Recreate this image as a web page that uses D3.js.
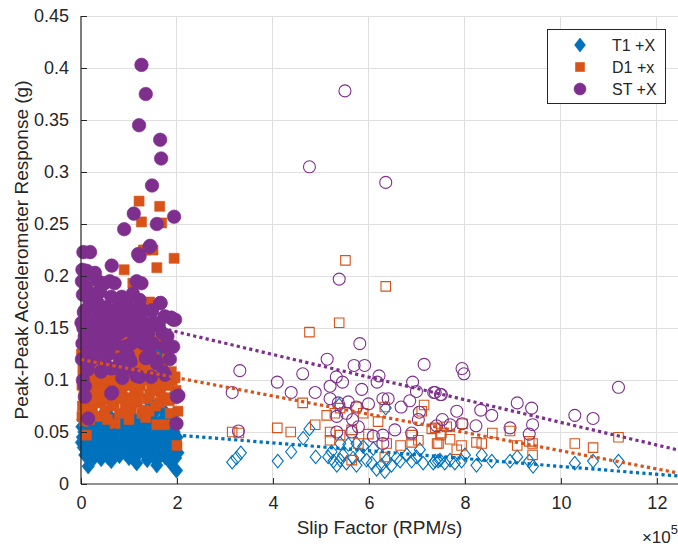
<!DOCTYPE html>
<html>
<head>
<meta charset="utf-8">
<script src="https://cdn.jsdelivr.net/npm/d3@7"></script>
<style>
  body { margin: 0; background: #fff; }
  svg { display: block; font-family: "Liberation Sans", Arial, Helvetica, sans-serif; }
</style>
</head>
<body>
<svg id="chart" width="678" height="547"></svg>
<script>
// Slip factor is stored in units of 1e5 RPM/s (axis shows the x10^5 multiplier);
// response is peak-peak acceleration in g.

// Tick values
const xTicks = [0, 2, 4, 6, 8, 10, 12];
const yTicks = [0, 0.05, 0.1, 0.15, 0.2, 0.25, 0.3, 0.35, 0.4, 0.45];
const yTickLabels = ["0", "0.05", "0.1", "0.15", "0.2", "0.25", "0.3", "0.35", "0.4", "0.45"];

// Series names (legend)
const seriesNames = ["T1 +X", "D1 +x", "ST +X"];
const seriesColors = ["#0072BD", "#D95319", "#7E2F8E"];

// T1 +X, low slip-factor runs (filled diamonds)
const t1Filled = [
  [0.02,0.055],[0.03,0.045],[0.04,0.062],[0.05,0.035],[0.06,0.050],[0.08,0.028],[0.10,0.058],[0.12,0.041],
  [0.15,0.017],[0.16,0.066],[0.18,0.048],[0.20,0.033],[0.22,0.056],[0.25,0.039],[0.27,0.025],[0.28,0.062],
  [0.30,0.047],[0.33,0.030],[0.35,0.055],[0.38,0.042],[0.40,0.064],[0.42,0.024],[0.44,0.051],[0.47,0.036],
  [0.50,0.059],[0.52,0.029],[0.55,0.046],[0.57,0.067],[0.58,0.038],[0.61,0.053],[0.63,0.022],[0.65,0.044],
  [0.68,0.060],[0.70,0.032],[0.72,0.050],[0.75,0.040],[0.78,0.065],[0.80,0.027],[0.82,0.055],[0.85,0.035],
  [0.88,0.047],[0.90,0.062],[0.92,0.030],[0.95,0.042],[0.98,0.057],[1.00,0.025],[1.02,0.049],[1.05,0.037],
  [1.08,0.064],[1.10,0.031],[1.12,0.052],[1.13,0.086],[1.15,0.043],[1.18,0.028],[1.20,0.058],[1.22,0.036],
  [1.25,0.047],[1.28,0.066],[1.30,0.031],[1.32,0.054],[1.33,0.111],[1.35,0.040],[1.38,0.023],[1.40,0.061],
  [1.42,0.045],[1.44,0.078],[1.45,0.033],[1.48,0.055],[1.50,0.027],[1.52,0.068],[1.54,0.094],[1.55,0.041],
  [1.58,0.018],[1.60,0.050],[1.61,0.119],[1.62,0.035],[1.65,0.127],[1.66,0.060],[1.68,0.044],[1.70,0.029],
  [1.72,0.071],[1.75,0.026],[1.76,0.052],[1.78,0.038],[1.80,0.063],[1.82,0.047],[1.85,0.031],[1.88,0.055],
  [1.90,0.040],[1.92,0.066],[1.96,0.087],[1.97,0.025],[1.99,0.013],[2.00,0.045],[2.02,0.030],
  [0.01,0.040],[0.09,0.052],[0.14,0.060],[0.24,0.046],[0.32,0.058],[0.37,0.035],[0.46,0.060],[0.54,0.053],
  [0.60,0.030],[0.67,0.052],[0.74,0.060],[0.77,0.034],[0.87,0.056],[0.94,0.050],[1.04,0.058],[1.14,0.060],
  [1.24,0.053],[1.34,0.060],[1.47,0.045],[1.57,0.058],[1.64,0.045],[1.74,0.060],[1.84,0.056],[1.94,0.050],
  [0.13,0.030],[0.56,0.026],[1.16,0.020],[1.62,0.025],[1.87,0.020]
];

// D1 +x, low slip-factor runs (filled squares)
const d1Filled = [
  [0.01,0.125],[0.02,0.095],[0.03,0.075],[0.04,0.110],[0.05,0.140],[0.06,0.085],[0.08,0.118],[0.10,0.068],
  [0.11,0.047],[0.12,0.100],[0.14,0.132],[0.15,0.190],[0.16,0.080],[0.18,0.112],[0.20,0.092],[0.22,0.145],
  [0.24,0.072],[0.26,0.122],[0.28,0.103],[0.30,0.084],[0.32,0.137],[0.34,0.065],[0.36,0.115],[0.38,0.095],
  [0.40,0.128],[0.42,0.078],[0.44,0.108],[0.46,0.142],[0.48,0.088],[0.49,0.126],[0.50,0.070],[0.52,0.118],
  [0.54,0.098],[0.56,0.135],[0.58,0.082],[0.60,0.110],[0.63,0.156],[0.64,0.075],[0.66,0.126],[0.68,0.092],
  [0.70,0.105],[0.71,0.058],[0.73,0.140],[0.75,0.085],[0.77,0.115],[0.80,0.068],[0.82,0.100],[0.84,0.130],
  [0.86,0.090],[0.88,0.120],[0.90,0.206],[0.92,0.075],[0.94,0.108],[0.96,0.138],[0.98,0.083],[1.00,0.118],
  [1.02,0.095],[1.05,0.072],[1.07,0.128],[1.08,0.193],[1.10,0.104],[1.12,0.087],[1.15,0.136],[1.17,0.078],
  [1.19,0.113],[1.21,0.272],[1.22,0.126],[1.24,0.095],[1.26,0.252],[1.27,0.068],[1.29,0.120],[1.30,0.225],
  [1.31,0.071],[1.33,0.100],[1.36,0.225],[1.38,0.082],[1.40,0.132],[1.43,0.175],[1.43,0.086],[1.45,0.110],
  [1.47,0.092],[1.50,0.225],[1.52,0.122],[1.55,0.075],[1.58,0.208],[1.58,0.057],[1.60,0.102],[1.62,0.140],
  [1.64,0.267],[1.64,0.078],[1.66,0.088],[1.68,0.251],[1.70,0.115],[1.74,0.057],[1.76,0.095],[1.80,0.125],
  [1.84,0.080],[1.88,0.108],[1.90,0.100],[1.94,0.217],[1.95,0.102],[1.96,0.103],[1.98,0.090],[2.00,0.037],
  [2.02,0.070],
  [0.05,0.105],[0.09,0.130],[0.13,0.088],[0.19,0.125],[0.23,0.098],[0.27,0.080],[0.31,0.115],[0.35,0.090],
  [0.41,0.100],[0.45,0.082],[0.53,0.090],[0.57,0.107],[0.62,0.090],[0.69,0.078],[0.74,0.097],[0.79,0.125],
  [0.83,0.082],[0.91,0.095],[0.97,0.070],[1.03,0.110],[1.09,0.080],[1.14,0.095],[1.20,0.088],[1.26,0.110],
  [1.35,0.115],[1.42,0.070],[1.49,0.100],[1.56,0.090],[1.67,0.100],[1.72,0.083],[1.82,0.095],[1.86,0.068],
  [1.92,0.082],[0.02,0.065],[0.07,0.060],[0.18,0.062],[0.55,0.062],[1.00,0.062],[1.35,0.064]
];

// ST +X, low slip-factor runs (filled circles)
const stFilled = [
  [1.26,0.403],[1.35,0.375],[1.21,0.345],[1.65,0.331],[1.67,0.313],[1.48,0.287],[1.10,0.260],[0.90,0.245],
  [1.58,0.250],[1.94,0.257],[1.44,0.229],[0.05,0.223],[0.19,0.223],[1.19,0.221],[0.03,0.206],[0.64,0.210],
  [0.29,0.203],[1.16,0.195],[1.65,0.174],[1.26,0.166],[1.47,0.166],[1.75,0.161],[1.92,0.158],[1.60,0.152],
  [1.78,0.142],[1.92,0.132],[1.35,0.121],[1.58,0.116],[1.75,0.105],[1.16,0.104],[0.08,0.094],[0.08,0.084],
  [0.65,0.088],[2.03,0.085],[0.15,0.063],[1.99,0.058],
  [0.25,0.201],[0.49,0.193],[0.70,0.193],[0.04,0.182],[0.28,0.183],[1.08,0.183],[0.08,0.167],[0.35,0.174],
  [0.63,0.180],[0.77,0.170],[1.22,0.167],[0.01,0.155],[0.28,0.158],[0.56,0.161],[0.91,0.158],[1.12,0.155],
  [0.08,0.142],[0.35,0.145],[0.70,0.148],[0.98,0.148],[0.15,0.129],[0.49,0.135],[0.91,0.132],[1.19,0.138],
  [0.98,0.124],[1.43,0.228],[1.22,0.219],[1.26,0.193],[1.22,0.177],[1.66,0.174],[1.29,0.167],[1.48,0.167],
  [1.74,0.161],[1.88,0.160],[1.96,0.158],[1.62,0.152],[1.26,0.148],[1.80,0.142],[1.74,0.132],[1.36,0.122],
  [0.22,0.119],[0.42,0.108],[0.63,0.111],[0.77,0.111],[0.94,0.111],[0.63,0.087],[1.15,0.105],[1.57,0.118],
  [1.71,0.108],[1.46,0.103],[1.22,0.103],[2.00,0.084],[0.02,0.120],[0.03,0.135],[0.05,0.150],[0.06,0.165],
  [0.04,0.100],[0.45,0.160],[0.18,0.175],[0.85,0.180],[1.02,0.168],[0.55,0.140],[0.20,0.150],[1.05,0.135],
  [0.10,0.190],[0.12,0.160],[0.14,0.110],[0.24,0.135],[0.30,0.170],[0.32,0.125],[0.38,0.150],[0.40,0.185],
  [0.44,0.130],[0.52,0.170],[0.58,0.125],[0.60,0.150],[0.66,0.165],[0.72,0.135],[0.75,0.155],[0.80,0.145],
  [0.82,0.120],[0.88,0.165],[0.95,0.175],[1.00,0.150],[1.04,0.118],[1.10,0.160],[1.14,0.140],[1.30,0.135],
  [1.32,0.155],[1.40,0.145],[1.44,0.125],[1.50,0.135],[1.54,0.155],[1.70,0.145],[1.85,0.120],[0.36,0.195],
  [0.60,0.195],[0.12,0.205],[0.02,0.195],[0.50,0.115],[0.86,0.102]
];

// T1 +X, high slip-factor runs (open diamonds)
const t1Open = [
  [3.15,0.021],[3.24,0.025],[3.33,0.030],[4.10,0.022],[4.38,0.031],[4.63,0.044],[4.76,0.053],[4.89,0.026],
  [5.38,0.076],[6.35,0.073],[5.15,0.026],[5.26,0.022],[5.33,0.018],[5.40,0.023],[5.22,0.031],[5.46,0.028],
  [5.53,0.020],[5.67,0.025],[5.74,0.018],[5.81,0.028],[5.95,0.023],[6.06,0.020],[6.16,0.014],[6.26,0.018],
  [6.33,0.012],[6.37,0.023],[6.47,0.018],[6.58,0.025],[6.65,0.022],[6.79,0.028],[6.89,0.022],[6.99,0.026],
  [7.06,0.033],[7.13,0.020],[7.34,0.020],[7.44,0.022],[7.58,0.020],[5.40,0.039],[5.57,0.038],[5.74,0.039],
  [5.88,0.036],[6.09,0.034],[7.38,0.022],[7.48,0.023],[7.69,0.023],[7.79,0.020],[7.93,0.022],[8.00,0.028],
  [8.24,0.018],[8.35,0.028],[8.56,0.022],[8.94,0.022],[9.09,0.026],[9.34,0.022],[9.42,0.017],[10.29,0.020],
  [10.67,0.022],[11.20,0.022]
];

// D1 +x, high slip-factor runs (open squares)
const d1Open = [
  [5.51,0.215],[6.35,0.190],[5.38,0.155],[4.76,0.146],[4.62,0.078],[4.09,0.054],[4.37,0.050],[4.88,0.057],
  [3.15,0.050],[3.29,0.049],[5.12,0.066],[5.29,0.068],[5.40,0.073],[5.74,0.074],[5.88,0.068],[6.33,0.074],
  [6.19,0.060],[5.19,0.050],[5.40,0.047],[5.64,0.052],[5.78,0.039],[5.19,0.042],[5.99,0.048],[6.37,0.039],
  [6.66,0.037],[6.33,0.026],[5.64,0.023],[6.89,0.047],[7.03,0.042],[6.89,0.040],[7.15,0.076],[7.10,0.070],
  [7.42,0.039],[7.49,0.047],[7.38,0.054],[7.62,0.055],[7.95,0.058],[7.51,0.049],[7.45,0.039],[7.69,0.043],
  [7.83,0.033],[7.93,0.037],[7.31,0.053],[8.24,0.040],[8.35,0.039],[8.57,0.049],[8.94,0.051],[9.09,0.037],
  [9.34,0.041],[9.41,0.039],[9.41,0.028],[10.29,0.039],[10.67,0.035],[11.20,0.045]
];

// ST +X, high slip-factor runs (open circles)
const stOpen = [
  [5.50,0.378],[4.76,0.305],[6.35,0.290],[5.38,0.197],[5.81,0.135],[3.31,0.109],[3.15,0.088],[4.09,0.098],
  [4.62,0.106],[4.38,0.088],[4.88,0.088],[5.13,0.120],[5.32,0.103],[5.45,0.098],[5.19,0.094],[5.69,0.114],
  [5.91,0.114],[5.85,0.091],[6.21,0.104],[6.17,0.098],[5.19,0.082],[5.36,0.078],[5.57,0.079],[5.74,0.074],
  [5.99,0.077],[6.29,0.082],[6.40,0.082],[6.67,0.074],[6.85,0.080],[6.91,0.098],[7.15,0.115],[6.99,0.089],
  [7.38,0.088],[7.49,0.086],[5.33,0.065],[5.53,0.068],[5.66,0.062],[5.78,0.055],[5.33,0.050],[5.64,0.050],
  [6.09,0.046],[6.29,0.047],[6.29,0.039],[6.54,0.052],[6.89,0.049],[7.05,0.069],[7.03,0.062],[7.53,0.062],
  [3.28,0.051],[7.94,0.111],[7.98,0.106],[7.35,0.088],[7.51,0.086],[7.83,0.070],[7.41,0.056],[7.69,0.057],
  [7.94,0.058],[8.23,0.056],[8.33,0.071],[8.56,0.066],[9.09,0.078],[9.39,0.073],[9.41,0.057],[9.34,0.048],
  [8.94,0.054],[10.29,0.066],[10.67,0.063],[11.20,0.093]
];

// Linear trend of each series, evaluated at the two ends of the x range
const trendX = [0, 12.44];
const t1Trend = [0.0546, 0.0077];
const d1Trend = [0.1197, 0.0106];
const stTrend = [0.1680, 0.0327];

// ---- layout ----
const W = 678, H = 547;
const margin = { left: 81, top: 16, right: 0, bottom: 63 };
const plotW = W - margin.left - margin.right;
const plotH = H - margin.top - margin.bottom;

const x = d3.scaleLinear().domain([0, 12.44]).range([0, plotW]);
const y = d3.scaleLinear().domain([0, 0.45]).range([plotH, 0]);

const svg = d3.select("#chart");
const g = svg.append("g").attr("transform", `translate(${margin.left},${margin.top})`);

const axisColor = "#262626";
const gridColor = "#dfdfdf";

// grid
g.append("g").selectAll("line").data(xTicks.filter(d => d > 0)).join("line")
  .attr("x1", d => x(d)).attr("x2", d => x(d))
  .attr("y1", 0).attr("y2", plotH)
  .attr("stroke", gridColor).attr("stroke-width", 1).attr("shape-rendering", "crispEdges");
g.append("g").selectAll("line").data(yTicks.filter(d => d > 0)).join("line")
  .attr("x1", 0).attr("x2", plotW)
  .attr("y1", d => y(d)).attr("y2", d => y(d))
  .attr("stroke", gridColor).attr("stroke-width", 1).attr("shape-rendering", "crispEdges");

// marker shapes
function diamondPath(w, h) {
  return `M0,${-h/2}L${w/2},0L0,${h/2}L${-w/2},0Z`;
}
function squarePath(s) {
  return `M${-s/2},${-s/2}h${s}v${s}h${-s}Z`;
}
function circlePath(r) {
  const p = d3.path();
  p.arc(0, 0, r, 0, 2 * Math.PI);
  p.closePath();
  return p.toString();
}

const filledShapes = [diamondPath(12.5, 15.5), squarePath(10), circlePath(6.8)];
const openShapes = [diamondPath(11, 13.5), squarePath(9.5), circlePath(6)];

function drawFilled(data, i) {
  g.append("g").selectAll("path").data(data).join("path")
    .attr("d", filledShapes[i])
    .attr("transform", d => `translate(${x(d[0])},${y(d[1])})`)
    .attr("fill", seriesColors[i])
    .attr("stroke", seriesColors[i]).attr("stroke-width", 0.6);
}
function drawOpen(data, i) {
  g.append("g").selectAll("path").data(data).join("path")
    .attr("d", openShapes[i])
    .attr("transform", d => `translate(${x(d[0])},${y(d[1])})`)
    .attr("fill", "none")
    .attr("stroke", seriesColors[i]).attr("stroke-width", 1.1);
}

drawFilled(t1Filled, 0);
drawFilled(d1Filled, 1);
drawFilled(stFilled, 2);
drawOpen(t1Open, 0);
drawOpen(d1Open, 1);
drawOpen(stOpen, 2);

// dotted trend lines
const trendLine = d3.line().x(d => x(d[0])).y(d => y(d[1]));
[t1Trend, d1Trend, stTrend].forEach((vals, i) => {
  g.append("path")
    .datum(trendX.map((xv, k) => [xv, vals[k]]))
    .attr("d", trendLine)
    .attr("fill", "none")
    .attr("stroke", seriesColors[i])
    .attr("stroke-width", 3.2)
    .attr("stroke-dasharray", "3.2,3.2");
});

// axes (ticks point inward)
const xAxis = d3.axisBottom(x).tickValues(xTicks).tickSize(-6).tickPadding(12)
  .tickFormat(d3.format("d"));
const yAxis = d3.axisLeft(y).tickValues(yTicks).tickSize(-6).tickPadding(12)
  .tickFormat((d, i) => yTickLabels[i]);

const gx = g.append("g").attr("transform", `translate(0,${plotH})`).call(xAxis);
const gy = g.append("g").call(yAxis);
[gx, gy].forEach(ax => {
  ax.select(".domain").attr("stroke", axisColor).attr("stroke-width", 1.2);
  ax.selectAll(".tick line").attr("stroke", axisColor).attr("stroke-width", 1);
  ax.selectAll(".tick text").attr("fill", axisColor).style("font-size", "18px")
    .style("font-family", '"Liberation Sans", Arial, sans-serif');
});
gx.select(".domain").attr("d", `M0,0H${plotW}`);
gy.select(".domain").attr("d", `M0,${plotH}V0`);

// axis labels
svg.append("text")
  .attr("x", margin.left + plotW / 2).attr("y", 534)
  .attr("text-anchor", "middle").attr("fill", axisColor)
  .style("font-size", "19px")
  .text("Slip Factor (RPM/s)");

svg.append("text")
  .attr("transform", `translate(28,${margin.top + plotH / 2}) rotate(-90)`)
  .attr("text-anchor", "middle").attr("fill", axisColor)
  .style("font-size", "19px")
  .text("Peak-Peak Accelerometer Response (g)");

// x10^5 exponent
const expo = svg.append("text").attr("x", 678).attr("y", 543)
  .attr("text-anchor", "end").attr("fill", axisColor).style("font-size", "17px");
expo.append("tspan").text("×10");
expo.append("tspan").attr("dy", -9).style("font-size", "13px").text("5");

// legend
const leg = svg.append("g").attr("transform", "translate(547,29)");
leg.append("rect").attr("x", 0.5).attr("y", 0.5).attr("width", 118).attr("height", 74)
  .attr("fill", "#fff").attr("stroke", axisColor).attr("stroke-width", 1);
const legendShapes = [diamondPath(11, 14), squarePath(9), circlePath(6)];
seriesNames.forEach((name, i) => {
  const row = leg.append("g").attr("transform", `translate(0,${16 + i * 22})`);
  row.append("path").attr("d", legendShapes[i]).attr("transform", "translate(33,0)")
    .attr("fill", seriesColors[i]).attr("stroke", seriesColors[i]).attr("stroke-width", 0.6);
  row.append("text").attr("x", 65).attr("y", 5.5).attr("fill", axisColor)
    .style("font-size", "16px").text(name);
});
</script>
</body>
</html>
